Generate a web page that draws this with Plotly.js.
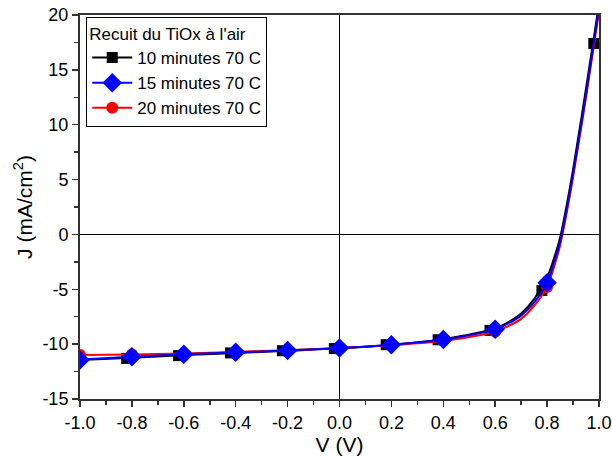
<!DOCTYPE html>
<html><head><meta charset="utf-8">
<script src="https://cdn.plot.ly/plotly-3.0.1.min.js"></script>
<style>body{margin:0;background:#fff}#c{width:612px;height:457px}</style>
</head><body><div id="c"></div>
<script>
// curve samples
const vLine = [-1,-0.8,-0.6,-0.4,-0.2,0,0.2,0.4,0.6,0.65,0.7,0.75,0.8,0.825,0.85,0.875,0.9,0.95,1.0];
const jLine10 = [-11.45,-11.25,-11.0,-10.8,-10.6,-10.38,-10.05,-9.55,-8.55,-8.0,-7.2,-5.9,-3.9,-2.3,-0.3,2.6,5.9,13.3,21.0];
const jLine15 = [-11.4,-11.15,-10.93,-10.75,-10.57,-10.36,-10.05,-9.57,-8.65,-8.1,-7.4,-6.2,-4.4,-2.7,-0.7,2.2,5.5,12.8,20.6];
const jLine20 = [-11.0,-10.95,-10.85,-10.7,-10.55,-10.35,-10.1,-9.7,-8.85,-8.35,-7.7,-6.5,-4.8,-3.1,-1.0,1.9,5.2,12.5,20.3];
// markers
const vMark10 = [-0.82,-0.62,-0.42,-0.22,-0.02,0.18,0.38,0.58,0.78,0.98];
const jMark10 = [-11.3,-11.05,-10.8,-10.6,-10.4,-10.05,-9.6,-8.75,-5.1,17.4];
const vMark = [-1,-0.8,-0.6,-0.4,-0.2,0,0.2,0.4,0.6,0.8];
const jMark15 = [-11.45,-11.15,-10.93,-10.75,-10.57,-10.36,-10.05,-9.57,-8.65,-4.4];
const jMark20 = [-11.0,-10.95,-10.85,-10.7,-10.55,-10.35,-10.1,-9.7,-8.85,-4.8];
const names = ['10 minutes 70 C','15 minutes 70 C','20 minutes 70 C'];
// tick labels
const xTickVals = [-1,-0.8,-0.6,-0.4,-0.2,0,0.2,0.4,0.6,0.8,1];
const xTickText = ['-1.0','-0.8','-0.6','-0.4','-0.2','0.0','0.2','0.4','0.6','0.8','1.0'];
const yTickVals = [-15,-10,-5,0,5,10,15,20];
const yTickText = ['-15','-10','-5','0','5','10','15','20'];

const font = {family:'Liberation Sans, Arial, sans-serif', color:'#000'};
const f = s => Object.assign({size:s},font);
const traces = [
  {x:vLine,y:jLine10,mode:'lines',line:{color:'#000',width:2,shape:'spline'},showlegend:false},
  {x:vMark10,y:jMark10,mode:'markers',marker:{symbol:'square',color:'#000',size:11},showlegend:false},
  {x:vLine,y:jLine20,mode:'lines',line:{color:'#ff0000',width:2,shape:'spline'},showlegend:false},
  {x:vMark,y:jMark20,mode:'markers',marker:{symbol:'circle',color:'#ff0000',size:12},showlegend:false},
  {x:vLine,y:jLine15,mode:'lines',line:{color:'#0000ff',width:2,shape:'spline'},showlegend:false},
  {x:vMark,y:jMark15,mode:'markers',marker:{symbol:'diamond',color:'#0000ff',size:15},showlegend:false},
  // legend entries
  {x:[null],y:[null],mode:'lines+markers',name:names[0],line:{color:'#000',width:2},marker:{symbol:'square',color:'#000',size:11}},
  {x:[null],y:[null],mode:'lines+markers',name:names[1],line:{color:'#0000ff',width:2},marker:{symbol:'diamond',color:'#0000ff',size:15}},
  {x:[null],y:[null],mode:'lines+markers',name:names[2],line:{color:'#ff0000',width:2},marker:{symbol:'circle',color:'#ff0000',size:12}}
];
const layout = {
  width:612,height:457,
  margin:{l:80,r:13,t:15,b:58},
  paper_bgcolor:'#fff',plot_bgcolor:'#fff',
  font:f(18),
  showlegend:true,
  legend:{x:0.012,y:0.995,xanchor:'left',yanchor:'top',bgcolor:'#fff',bordercolor:'#000',borderwidth:1,
    font:f(17),
    title:{text:'Recuit du TiOx à l\'air',font:f(17)},
    tracegroupgap:0,itemwidth:40},
  xaxis:{range:[-1,1],tickmode:'array',tickvals:xTickVals,ticktext:xTickText,ticks:'outside',ticklen:6,tickwidth:1.5,tickcolor:'#333',
    minor:{dtick:0.1,tick0:-1,ticks:'outside',ticklen:4,tickwidth:1.5,tickcolor:'#333'},
    showline:true,linecolor:'#333',linewidth:2,mirror:true,showgrid:false,
    zeroline:true,zerolinecolor:'#000',zerolinewidth:1.5,
    tickfont:f(18),
    title:{text:'V (V)',font:f(21),standoff:4}},
  yaxis:{range:[-15,20],tickmode:'array',tickvals:yTickVals,ticktext:yTickText,ticks:'outside',ticklen:6,tickwidth:1.5,tickcolor:'#333',
    minor:{dtick:2.5,tick0:-15,ticks:'outside',ticklen:4,tickwidth:1.5,tickcolor:'#333'},
    showline:true,linecolor:'#333',linewidth:2,mirror:true,showgrid:false,
    zeroline:true,zerolinecolor:'#000',zerolinewidth:1.5,
    tickfont:f(18),
    title:{text:'J (mA/cm<sup>2</sup>)',font:f(21),standoff:4}}
};
Plotly.newPlot('c',traces,layout,{displayModeBar:false,staticPlot:true});
</script></body></html>
